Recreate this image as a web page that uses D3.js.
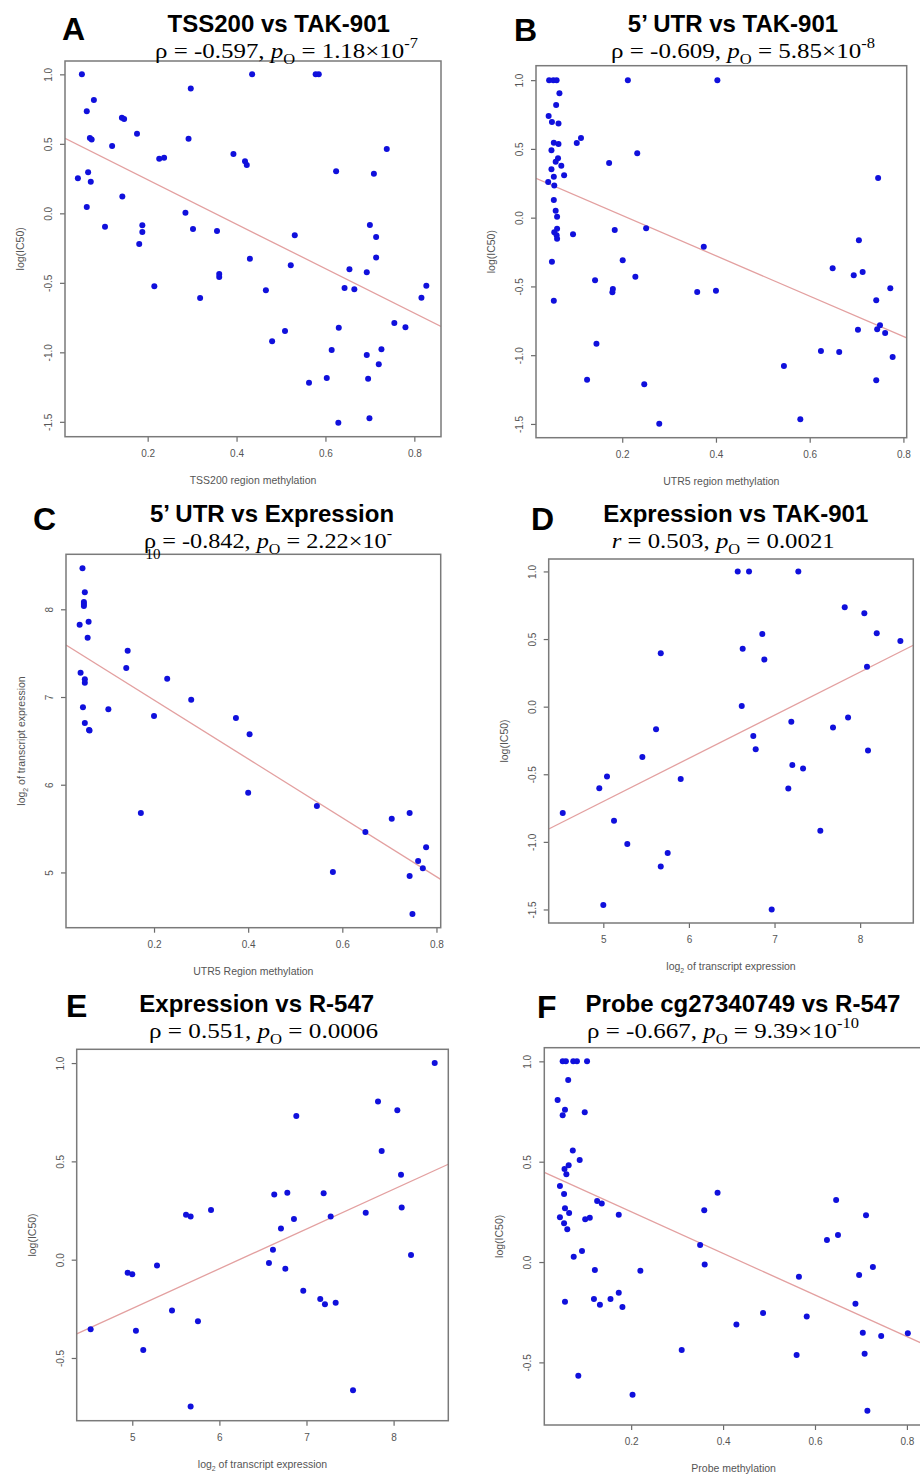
<!DOCTYPE html>
<html>
<head>
<meta charset="utf-8">
<script src="https://cdnjs.cloudflare.com/ajax/libs/d3/7.8.5/d3.min.js"></script>
<style>
body { margin: 0; background: #fff; }
text { font-family: "Liberation Sans", Arial, sans-serif; }
</style>
</head>
<body>
<div id="chart"></div>
<script>
var w = 920,
	h = 1477;

// each point is [x, y]
var aPoints = [[0.052,1.0],[0.043,0.252],[0.063,0.734],[0.079,0.815],[0.070,0.542],[0.074,0.532],[0.066,0.295],[0.072,0.227],[0.063,0.045],[0.104,-0.096],
	[0.120,0.484],[0.142,0.688],[0.147,0.678],[0.143,0.122],[0.176,0.573],[0.188,-0.086],[0.188,-0.135],[0.181,-0.221],[0.226,0.393],[0.237,0.400],
	[0.297,0.899],[0.292,0.537],[0.285,0.004],[0.302,-0.113],[0.356,-0.127],[0.435,1.0],[0.393,0.427],[0.419,0.374],[0.423,0.347],[0.578,1.0],
	[0.585,1.0],[0.624,0.302],[0.531,-0.158],[0.700,-0.084],[0.714,-0.170],[0.709,0.285],[0.738,0.463],[0.430,-0.327],[0.522,-0.374],[0.714,-0.317],
	[0.215,-0.525],[0.361,-0.437],[0.361,-0.458],[0.318,-0.609],[0.466,-0.554],[0.654,-0.403],[0.693,-0.424],[0.643,-0.537],[0.665,-0.547],[0.827,-0.521],
	[0.816,-0.607],[0.509,-0.847],[0.480,-0.921],[0.630,-0.823],[0.755,-0.789],[0.780,-0.820],[0.614,-0.983],[0.726,-0.978],[0.693,-1.019],[0.720,-1.086],
	[0.563,-1.219],[0.603,-1.185],[0.696,-1.190],[0.629,-1.506],[0.699,-1.475]];
var aFit = [0.562, -1.60];

var bPoints = [[0.044,1.0],[0.053,1.0],[0.060,1.0],[0.066,0.905],[0.059,0.820],[0.043,0.740],[0.050,0.696],[0.064,0.684],[0.054,0.545],[0.064,0.536],
	[0.049,0.490],[0.063,0.432],[0.058,0.407],[0.070,0.378],[0.049,0.352],[0.054,0.298],[0.076,0.308],[0.042,0.260],[0.055,0.233],[0.054,0.129],
	[0.058,0.051],[0.061,0.007],[0.061,-0.080],[0.055,-0.106],[0.060,-0.128],[0.061,-0.153],[0.095,-0.121],[0.103,0.543],[0.112,0.580],[0.172,0.398],
	[0.212,1.0],[0.232,0.468],[0.184,-0.089],[0.251,-0.077],[0.403,1.0],[0.374,-0.212],[0.746,0.289],[0.705,-0.165],[0.050,-0.320],[0.054,-0.604],
	[0.142,-0.455],[0.145,-0.916],[0.125,-1.178],[0.180,-0.519],[0.179,-0.543],[0.201,-0.310],[0.228,-0.429],[0.247,-1.212],[0.279,-1.498],[0.360,-0.540],
	[0.400,-0.531],[0.545,-1.079],[0.580,-1.466],[0.624,-0.969],[0.663,-0.977],[0.649,-0.368],[0.694,-0.419],[0.713,-0.395],[0.703,-0.815],[0.742,-0.601],
	[0.772,-0.514],[0.744,-0.812],[0.750,-0.783],[0.761,-0.839],[0.777,-1.013],[0.742,-1.183]];
var bFit = [0.310, -1.468];

var cPoints = [[0.048,8.467],[0.053,8.194],[0.051,8.083],[0.051,8.060],[0.051,8.038],[0.042,7.824],[0.061,7.859],[0.059,7.676],[0.044,7.277],[0.053,7.202],
	[0.053,7.163],[0.049,6.883],[0.053,6.704],[0.062,6.624],[0.063,6.618],[0.103,6.860],[0.144,7.528],[0.141,7.331],[0.228,7.209],[0.200,6.783],
	[0.279,6.969],[0.374,6.761],[0.403,6.575],[0.172,5.677],[0.400,5.909],[0.546,5.757],[0.580,5.005],[0.649,5.461],[0.705,5.612],[0.743,5.677],
	[0.778,5.286],[0.761,5.130],[0.771,5.047],[0.743,4.959],[0.749,4.526]];
var cFit = [7.637, -3.357];

var dPoints = [[6.570,1.0],[6.702,1.0],[7.278,1.0],[7.820,0.735],[8.049,0.691],[8.194,0.543],[8.470,0.486],[8.080,0.296],[6.857,0.538],[6.628,0.429],
	[6.881,0.348],[5.671,0.395],[6.617,0.005],[5.616,-0.167],[7.196,-0.111],[7.859,-0.081],[7.683,-0.155],[6.752,-0.217],[6.780,-0.315],[8.092,-0.325],
	[5.456,-0.372],[5.043,-0.517],[4.953,-0.603],[4.526,-0.786],[5.125,-0.843],[5.280,-1.015],[5.904,-0.535],[5.752,-1.082],[5.671,-1.183],[5.000,-1.467],
	[6.967,-1.501],[7.208,-0.431],[7.333,-0.458],[7.161,-0.606],[7.535,-0.917]];
var dFit = [-2.296, 0.319];

var ePoints = [[8.472,1.0],[7.821,0.805],[8.043,0.760],[6.883,0.731],[7.863,0.553],[8.085,0.432],[6.630,0.332],[6.780,0.341],[7.197,0.338],[8.093,0.266],
	[7.680,0.239],[7.278,0.219],[6.856,0.207],[5.617,0.229],[5.670,0.219],[5.904,0.253],[6.707,0.158],[6.615,0.051],[6.569,-0.017],[6.757,-0.046],
	[8.200,0.024],[5.284,-0.029],[4.947,-0.066],[5.000,-0.074],[6.963,-0.158],[7.158,-0.200],[7.212,-0.227],[7.335,-0.219],[5.456,-0.259],[5.754,-0.313],
	[4.522,-0.354],[5.042,-0.361],[5.126,-0.459],[7.534,-0.664],[5.670,-0.747]];
var eFit = [-1.260, 0.2023];

var fPoints = [[0.051,1.0],[0.058,1.0],[0.074,1.0],[0.082,1.0],[0.104,1.0],[0.063,0.907],[0.040,0.807],[0.056,0.759],[0.051,0.732],[0.099,0.746],
	[0.073,0.556],[0.088,0.508],[0.064,0.482],[0.055,0.463],[0.059,0.438],[0.045,0.379],[0.054,0.339],[0.056,0.268],[0.065,0.244],[0.045,0.223],
	[0.054,0.193],[0.061,0.164],[0.126,0.304],[0.136,0.292],[0.100,0.213],[0.110,0.221],[0.173,0.236],[0.359,0.258],[0.388,0.345],[0.646,0.309],
	[0.711,0.233],[0.075,0.026],[0.093,0.055],[0.056,-0.198],[0.085,-0.567],[0.121,-0.040],[0.119,-0.184],[0.132,-0.213],[0.155,-0.184],[0.173,-0.153],
	[0.181,-0.224],[0.220,-0.043],[0.203,-0.661],[0.310,-0.438],[0.350,0.085],[0.360,-0.012],[0.429,-0.311],[0.487,-0.254],[0.560,-0.463],[0.565,-0.073],
	[0.582,-0.271],[0.626,0.110],[0.650,0.135],[0.688,-0.208],[0.696,-0.065],[0.726,-0.025],[0.704,-0.352],[0.708,-0.457],[0.744,-0.369],[0.802,-0.355],
	[0.714,-0.741]];
var fFit = [0.458, -1.037];

var methTicks = [0.2, 0.4, 0.6, 0.8];
var exprTicks = [5, 6, 7, 8];
var icTicksLong = [-1.5, -1, -0.5, 0, 0.5, 1];
var icTicksShort = [-0.5, 0, 0.5, 1];

var letters = ["A", "B", "C", "D", "E", "F"];
var titles = ["TSS200 vs TAK-901", "5\u2019 UTR vs TAK-901", "5\u2019 UTR vs Expression",
	"Expression vs TAK-901", "Expression vs R-547", "Probe cg27340749 vs R-547"];
// [text, style] pieces of the statistics line
var stats = [
	[["\u03c1 = -0.597, ", ""], ["p", "i"], ["O", "sub"], [" = 1.18\u00d710", ""], ["-7", "sup"]],
	[["\u03c1 = -0.609, ", ""], ["p", "i"], ["O", "sub"], [" = 5.85\u00d710", ""], ["-8", "sup"]],
	[["\u03c1 = -0.842, ", ""], ["p", "i"], ["O", "sub"], [" = 2.22\u00d710", ""], ["-", "sup"]],
	[["r", "i"], [" = 0.503, ", ""], ["p", "i"], ["O", "sub"], [" = 0.0021", ""]],
	[["\u03c1 = 0.551, ", ""], ["p", "i"], ["O", "sub"], [" = 0.0006", ""]],
	[["\u03c1 = -0.667, ", ""], ["p", "i"], ["O", "sub"], [" = 9.39\u00d710", ""], ["-10", "sup"]]
];
var xLabels = [
	[["TSS200 region methylation", ""]],
	[["UTR5 region methylation", ""]],
	[["UTR5 Region methylation", ""]],
	[["log", ""], ["2", "sub"], [" of transcript expression", ""]],
	[["log", ""], ["2", "sub"], [" of transcript expression", ""]],
	[["Probe methylation", ""]]
];
var yLabels = [
	[["log(IC50)", ""]],
	[["log(IC50)", ""]],
	[["log", ""], ["2", "sub"], [" of transcript expression", ""]],
	[["log(IC50)", ""]],
	[["log(IC50)", ""]],
	[["log(IC50)", ""]]
];

// layout: box = [left, top, right, bottom], title = [centre x, baseline], stat = [left x, baseline, width]
var panels = [
	{pts: aPoints, fit: aFit, xd: [0.014, 0.86], yd: [-1.607, 1.096], xt: methTicks, yt: icTicksLong, box: [65, 61, 441, 436.7], title: [278.7, 31.7], letter: [62, 40], stat: [155, 57.7, 263]},
	{pts: bPoints, fit: bFit, xd: [0.016, 0.807], yd: [-1.6, 1.105], xt: methTicks, yt: icTicksLong, box: [536, 65.7, 906.7, 437.7], title: [733, 31.7], letter: [514, 41], stat: [611, 57.7, 264]},
	{pts: cPoints, fit: cFit, xd: [0.013, 0.809], yd: [4.37, 8.627], xt: methTicks, yt: exprTicks, box: [66, 554.3, 440.7, 927.7], title: [272, 521.7], letter: [33, 530], stat: [144, 547.7, 248]},
	{pts: dPoints, fit: dFit, xd: [4.362, 8.621], yd: [-1.6, 1.092], xt: exprTicks, yt: icTicksLong, box: [548.7, 559, 913.3, 923], title: [735.8, 521.7], letter: [531, 530], stat: [611.7, 547.7, 223]},
	{pts: ePoints, fit: eFit, xd: [4.362, 8.628], yd: [-0.819, 1.070], xt: exprTicks, yt: icTicksShort, box: [76.7, 1049.3, 448.3, 1420.7], title: [256.7, 1011.7], letter: [66, 1017], stat: [149, 1037.7, 229]},
	{pts: fPoints, fit: fFit, xd: [0.011, 0.835], yd: [-0.812, 1.068], xt: methTicks, yt: icTicksShort, box: [544.3, 1047.7, 923, 1425], title: [743, 1011.7], letter: [537, 1018], stat: [587, 1037.7, 272]}
];

var root = d3.select("#chart").append("svg").attr("width", w).attr("height", h);
root.append("rect").attr("width", w).attr("height", h).style("fill", "#fff");
var defs = root.append("defs");

function rich(sel, parts, size) {
	var shift = 0;
	parts.forEach(function(pt) {
		var ts = sel.append("tspan").text(pt[0]);
		var want = pt[1] === "sub" ? size * 0.3 : (pt[1] === "sup" ? -size * 0.42 : 0);
		if (want - shift !== 0) ts.attr("dy", want - shift);
		shift = want;
		if (pt[1] === "sub" || pt[1] === "sup") ts.attr("font-size", size * 0.66);
		if (pt[1] === "i") ts.style("font-style", "italic");
	});
}

panels.forEach(function(p, i) {
	var b = p.box;
	var x = d3.scaleLinear().domain(p.xd).range([b[0], b[2]]);
	var y = d3.scaleLinear().domain(p.yd).range([b[3], b[1]]);
	var g = root.append("g");

	defs.append("clipPath").attr("id", "clip" + i).append("rect")
		.attr("x", b[0]).attr("y", b[1]).attr("width", b[2] - b[0]).attr("height", b[3] - b[1]);

	var xf = p.xt === exprTicks ? function(d) { return String(d); } : function(d) { return d.toFixed(1); };
	var yf = p.yt === exprTicks ? function(d) { return String(d); } : function(d) { return d.toFixed(1); };

	var xa = g.append("g").attr("transform", "translate(0," + b[3] + ")")
		.call(d3.axisBottom(x).tickValues(p.xt).tickSize(5).tickPadding(8).tickFormat(xf));
	var ya = g.append("g").attr("transform", "translate(" + b[0] + ",0)")
		.call(d3.axisLeft(y).tickValues(p.yt).tickSize(5).tickFormat(yf));
	[xa, ya].forEach(function(a) {
		a.select(".domain").remove();
		a.attr("font-family", "'Liberation Sans', Arial, sans-serif").attr("font-size", 10);
		a.selectAll("line").style("stroke", "#6a6a6a").style("stroke-width", 1.2);
		a.selectAll("text").style("fill", "#555");
	});
	ya.selectAll("text").attr("x", null).attr("dy", null).attr("text-anchor", "middle")
		.attr("transform", "translate(-13,0) rotate(-90)");

	// fitted line, clipped to the plot box
	g.append("line").attr("clip-path", "url(#clip" + i + ")")
		.attr("x1", x(p.xd[0])).attr("y1", y(p.fit[0] + p.fit[1] * p.xd[0]))
		.attr("x2", x(p.xd[1])).attr("y2", y(p.fit[0] + p.fit[1] * p.xd[1]))
		.style("stroke", "#e3a0a0").style("stroke-width", 1.3);

	g.selectAll("circle").data(p.pts).enter().append("circle")
		.attr("cx", function(d) { return x(d[0]); })
		.attr("cy", function(d) { return y(d[1]); })
		.attr("r", 3)
		.style("fill", "#1010dc");

	g.append("rect").attr("x", b[0]).attr("y", b[1]).attr("width", b[2] - b[0]).attr("height", b[3] - b[1])
		.style("fill", "none").style("stroke", "#7a7a7a").style("stroke-width", 1.5);

	// axis titles
	var xl = g.append("text").attr("x", (b[0] + b[2]) / 2).attr("y", b[3] + 47)
		.attr("text-anchor", "middle").attr("font-size", 10.5).style("fill", "#555");
	rich(xl, xLabels[i], 10.5);
	var yl = g.append("text").attr("text-anchor", "middle").attr("font-size", 10.5).style("fill", "#555")
		.attr("transform", "translate(" + (b[0] - 41) + "," + ((b[1] + b[3]) / 2) + ") rotate(-90)");
	rich(yl, yLabels[i], 10.5);

	g.append("text").attr("x", p.letter[0]).attr("y", p.letter[1])
		.attr("font-size", 32).attr("font-weight", "bold").style("fill", "#000").text(letters[i]);
	g.append("text").attr("x", p.title[0]).attr("y", p.title[1]).attr("text-anchor", "middle")
		.attr("font-size", 24).attr("font-weight", "bold").style("fill", "#000").text(titles[i]);

	var st = g.append("text").attr("x", p.stat[0]).attr("y", p.stat[1])
		.attr("textLength", p.stat[2]).attr("lengthAdjust", "spacingAndGlyphs")
		.style("font-family", "'Liberation Serif', 'Times New Roman', serif")
		.attr("font-size", 22).style("fill", "#000");
	rich(st, stats[i], 22);
});

// panel C: the exponent's digits wrapped onto a second line in the figure
root.append("text").attr("x", 145.5).attr("y", 559)
	.style("font-family", "'Liberation Serif', 'Times New Roman', serif")
	.attr("font-size", 15).text("10");
</script>
</body>
</html>
